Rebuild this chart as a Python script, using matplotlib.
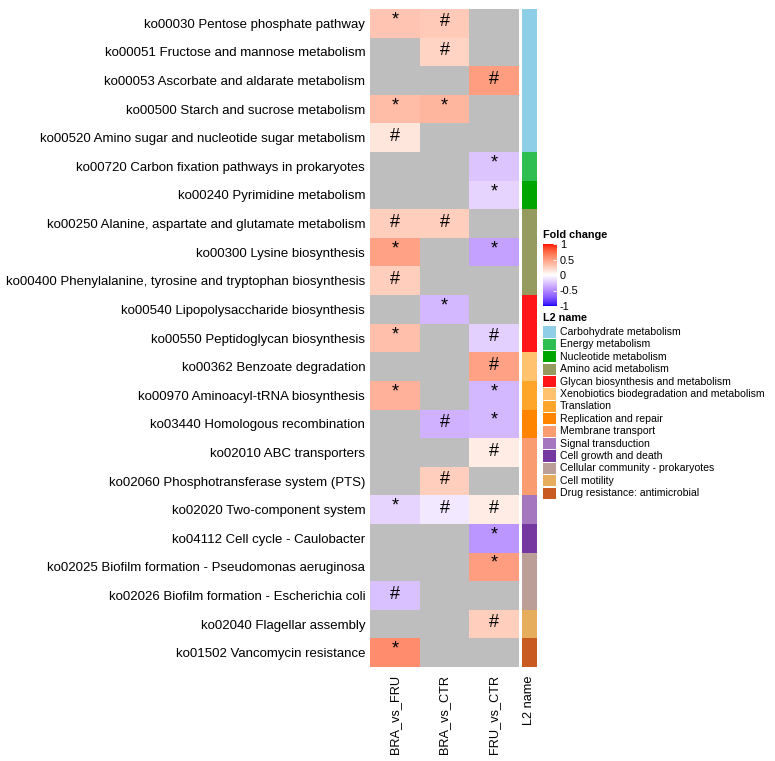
import numpy as np
import matplotlib
matplotlib.use("Agg")
import matplotlib.pyplot as plt
from matplotlib.colors import ListedColormap
from matplotlib.patches import Rectangle

plt.rcParams['font.family'] = ['Liberation Sans', 'DejaVu Sans']

# ---------------- data ----------------
pathways = [
    "ko00030 Pentose phosphate pathway",
    "ko00051 Fructose and mannose metabolism",
    "ko00053 Ascorbate and aldarate metabolism",
    "ko00500 Starch and sucrose metabolism",
    "ko00520 Amino sugar and nucleotide sugar metabolism",
    "ko00720 Carbon fixation pathways in prokaryotes",
    "ko00240 Pyrimidine metabolism",
    "ko00250 Alanine, aspartate and glutamate metabolism",
    "ko00300 Lysine biosynthesis",
    "ko00400 Phenylalanine, tyrosine and tryptophan biosynthesis",
    "ko00540 Lipopolysaccharide biosynthesis",
    "ko00550 Peptidoglycan biosynthesis",
    "ko00362 Benzoate degradation",
    "ko00970 Aminoacyl-tRNA biosynthesis",
    "ko03440 Homologous recombination",
    "ko02010 ABC transporters",
    "ko02060 Phosphotransferase system (PTS)",
    "ko02020 Two-component system",
    "ko04112 Cell cycle - Caulobacter",
    "ko02025 Biofilm formation - Pseudomonas aeruginosa",
    "ko02026 Biofilm formation - Escherichia coli",
    "ko02040 Flagellar assembly",
    "ko01502 Vancomycin resistance",
]
comparisons = ["BRA_vs_FRU", "BRA_vs_CTR", "FRU_vs_CTR"]
nan = np.nan
BRA_vs_FRU = [0.30, nan, nan, 0.35, 0.13, nan, nan, 0.25, 0.48, 0.25, nan, 0.33,
              nan, 0.40, nan, nan, nan, -0.18, nan, nan, -0.27, nan, 0.58]
BRA_vs_CTR = [0.28, 0.22, nan, 0.38, nan, nan, nan, 0.25, nan, nan, -0.30, nan,
              nan, nan, -0.33, nan, 0.25, -0.10, nan, nan, nan, nan, nan]
FRU_vs_CTR = [nan, nan, 0.50, nan, nan, -0.25, -0.18, nan, -0.40, nan, nan, -0.20,
              0.48, -0.30, -0.30, 0.10, nan, 0.10, -0.45, 0.50, nan, 0.25, nan]
sig_BRA_vs_FRU = ["*", "", "", "*", "#", "", "", "#", "*", "#", "", "*",
                  "", "*", "", "", "", "*", "", "", "#", "", "*"]
sig_BRA_vs_CTR = ["#", "#", "", "*", "", "", "", "#", "", "", "*", "",
                  "", "", "#", "", "#", "#", "", "", "", "", ""]
sig_FRU_vs_CTR = ["", "", "#", "", "", "*", "*", "", "*", "", "", "#",
                  "#", "*", "*", "#", "", "#", "*", "*", "", "#", ""]
l2_names = ["Carbohydrate metabolism", "Energy metabolism", "Nucleotide metabolism",
            "Amino acid metabolism", "Glycan biosynthesis and metabolism",
            "Xenobiotics biodegradation and metabolism", "Translation",
            "Replication and repair", "Membrane transport", "Signal transduction",
            "Cell growth and death", "Cellular community - prokaryotes",
            "Cell motility", "Drug resistance: antimicrobial"]
l2_colors = ["#8ECEE6", "#2EBE52", "#00A500", "#959A5E", "#FF1518", "#FFC26E",
             "#FFA52A", "#FF8500", "#F99C70", "#A577BF", "#7438A0", "#BC9E99",
             "#E6AE5C", "#C85A22"]
row_l2 = [0, 0, 0, 0, 0, 1, 2, 3, 3, 3, 4, 4, 5, 6, 7, 8, 8, 9, 10, 11, 11, 12, 13]
cb_ticks = [1, 0.5, 0, -0.5, -1]

# ---------------- LAB colormap (blue-white-red) ----------------
def srgb_to_lin(c):
    c = np.asarray(c, float)
    return np.where(c <= 0.04045, c / 12.92, ((c + 0.055) / 1.055) ** 2.4)

def lin_to_srgb(c):
    c = np.clip(c, 0, 1)
    return np.where(c <= 0.0031308, c * 12.92, 1.055 * c ** (1 / 2.4) - 0.055)

M = np.array([[0.4124, 0.3576, 0.1805], [0.2126, 0.7152, 0.0722], [0.0193, 0.1192, 0.9505]])
Minv = np.linalg.inv(M)
wp = np.array([0.95047, 1.0, 1.08883])

def rgb_to_lab(rgb):
    xyz = M @ srgb_to_lin(rgb) / wp
    f = np.where(xyz > 216 / 24389, np.cbrt(xyz), (24389 / 27 * xyz + 16) / 116)
    return np.array([116 * f[1] - 16, 500 * (f[0] - f[1]), 200 * (f[1] - f[2])])

def lab_to_rgb(lab):
    L, a, b = lab
    fy = (L + 16) / 116
    fx = fy + a / 500
    fz = fy - b / 200
    f = np.array([fx, fy, fz])
    xyz = np.where(f ** 3 > 216 / 24389, f ** 3, (116 * f - 16) / (24389 / 27)) * wp
    return lin_to_srgb(Minv @ xyz)

blue = rgb_to_lab([0, 0, 1]); white = rgb_to_lab([1, 1, 1]); red = rgb_to_lab([1, 0, 0])
cols = []
for v in np.linspace(-1, 1, 256):
    if v < 0:
        t = -v
        lab = white * (1 - t) + blue * t
    else:
        lab = white * (1 - v) + red * v
    cols.append(np.clip(lab_to_rgb(lab), 0, 1))
cmap = ListedColormap(cols)
cmap.set_bad("#BEBEBE")

# ---------------- figure ----------------
W, H = 775, 761
fig = plt.figure(figsize=(W / 100, H / 100), dpi=100)

def px_axes(x0, y0, x1, y1):
    return fig.add_axes([x0 / W, 1 - y1 / H, (x1 - x0) / W, (y1 - y0) / H])

data = np.ma.masked_invalid(np.array([BRA_vs_FRU, BRA_vs_CTR, FRU_vs_CTR]).T)
sig = np.array([sig_BRA_vs_FRU, sig_BRA_vs_CTR, sig_FRU_vs_CTR]).T
nr, nc = data.shape

ax = px_axes(370, 9, 519, 667)
mesh = ax.pcolormesh(np.arange(nc + 1), np.arange(nr + 1), data, cmap=cmap, vmin=-1, vmax=1)
ax.set_xlim(0, nc); ax.set_ylim(nr, 0)
for i in range(nr):
    for j in range(nc):
        s = sig[i, j]
        if s == "*":
            ax.text(j + 0.5, i + 0.38, s, ha="center", va="center",
                    fontsize=13, color="black")
        elif s == "#":
            ax.text(j + 0.5, i + 0.45, s, ha="center", va="center",
                    fontsize=13, color="black")
ax.set_yticks(np.arange(nr) + 0.5)
ax.set_yticklabels(pathways, fontsize=9.5)
ax.set_xticks(np.arange(nc) + 0.5)
ax.set_xticklabels(comparisons, rotation=90, fontsize=9.2)
ax.tick_params(length=0, pad=3.5)
ax.tick_params(axis="x", pad=6)
for sp in ax.spines.values():
    sp.set_visible(False)

# annotation column
axa = px_axes(522, 9, 537, 667)
axa.pcolormesh([0, 1], np.arange(nr + 1), np.array(row_l2)[:, None],
               cmap=ListedColormap(l2_colors), vmin=-0.5, vmax=len(l2_colors) - 0.5)
axa.set_xlim(0, 1); axa.set_ylim(nr, 0)
axa.set_yticks([])
axa.set_xticks([0.5]); axa.set_xticklabels(["L2 name"], rotation=90, fontsize=9.2)
axa.tick_params(length=0, pad=6)
for sp in axa.spines.values():
    sp.set_visible(False)

# colorbar legend
fig.text(543 / W, 1 - 235 / H, "Fold change", fontsize=7.8, fontweight="bold",
         ha="left", va="center")
cax = px_axes(543, 244, 557, 306)
cb = fig.colorbar(mesh, cax=cax, ticks=cb_ticks)
cb.outline.set_visible(False)
cax.tick_params(labelsize=7.8, length=3, width=0.6, color="white", direction="in", pad=2)
cax.set_yticklabels([f"{t:g}" for t in cb_ticks])

# L2 legend
fig.text(543 / W, 1 - 318 / H, "L2 name", fontsize=7.8, fontweight="bold",
         ha="left", va="center")
axl = fig.add_axes([0, 0, 1, 1], facecolor="none")
axl.set_xlim(0, W); axl.set_ylim(H, 0); axl.axis("off")
for k, (name, colr) in enumerate(zip(l2_names, l2_colors)):
    yc = 332 + k * 12.4
    axl.add_patch(Rectangle((543, yc - 5.6), 13, 11.2, facecolor=colr, edgecolor="none"))
    axl.text(560, yc, name, fontsize=7.6, ha="left", va="center")

fig.savefig("out.png", dpi=100)
